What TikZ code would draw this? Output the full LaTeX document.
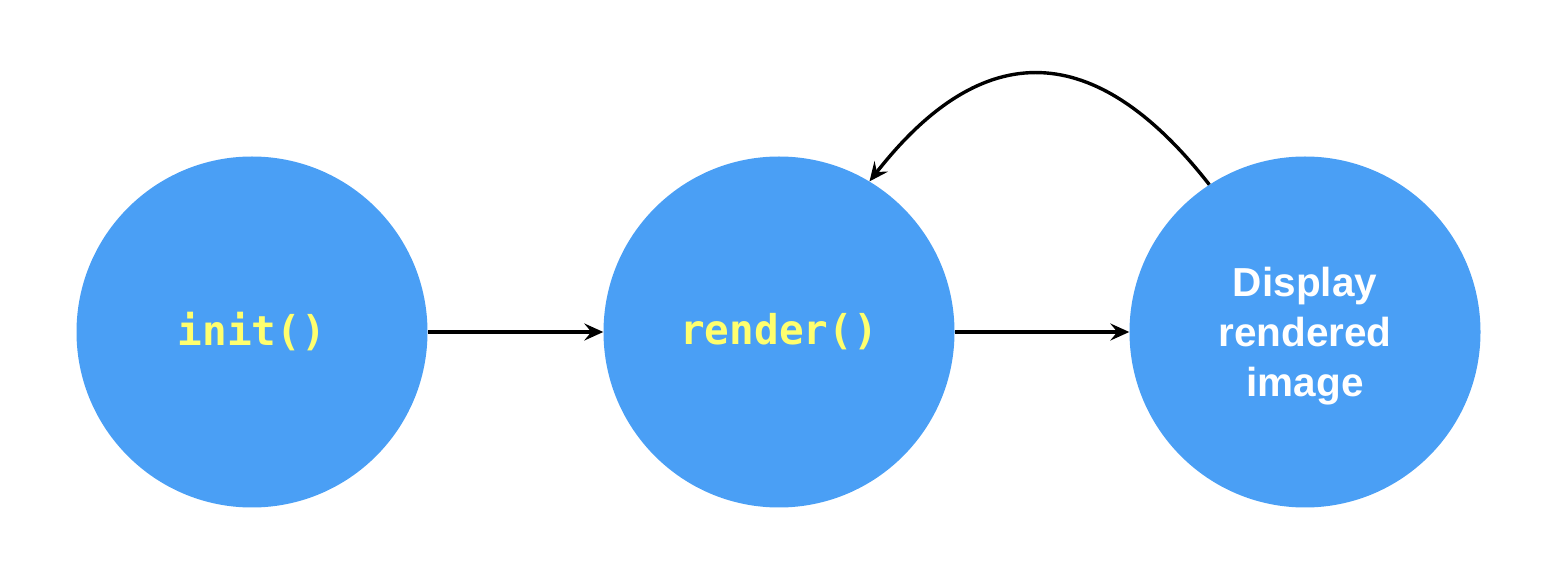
\documentclass[tikz,border=0pt]{standalone}
\usepackage{fontspec}
\setmainfont{Liberation Sans}
\setmonofont{DejaVu Sans Mono}
\usetikzlibrary{arrows.meta}
\definecolor{nodeblue}{HTML}{4A9FF5}
\definecolor{codeyellow}{HTML}{FFFF6E}
\tikzset{
  stage/.style={circle, fill=nodeblue, draw=none, minimum size=351pt, inner sep=0pt, align=center},
  codetxt/.style={text=codeyellow, font=\fontsize{41}{48}\selectfont\ttfamily\bfseries},
  plaintxt/.style={text=white, inner sep=0pt, align=center, font=\fontsize{40.5}{50}\selectfont\bfseries},
  conn/.style={line width=3.4pt, -{Stealth[length=19pt,width=17pt,inset=7pt]}}
}
\begin{document}
\begin{tikzpicture}[x=1pt,y=1pt]
\useasboundingbox (0,0) rectangle (1568,578);
\node[stage, codetxt] (init) at (252,246) {init()};
\node[stage, codetxt] (render) at (779,246) {render()};
\node[stage] (disp) at (1305,246) {};
\node[plaintxt] (disptext) at ([yshift=-4pt]disp.center) {Display\\rendered\\image};
\draw[conn] (init.east) -- (render.west);
\draw[conn] (render.east) -- (disp.west);
\draw[conn] (disp.123) .. controls +(128:185) and +(52:185) .. (render.59);
\end{tikzpicture}
\end{document}
